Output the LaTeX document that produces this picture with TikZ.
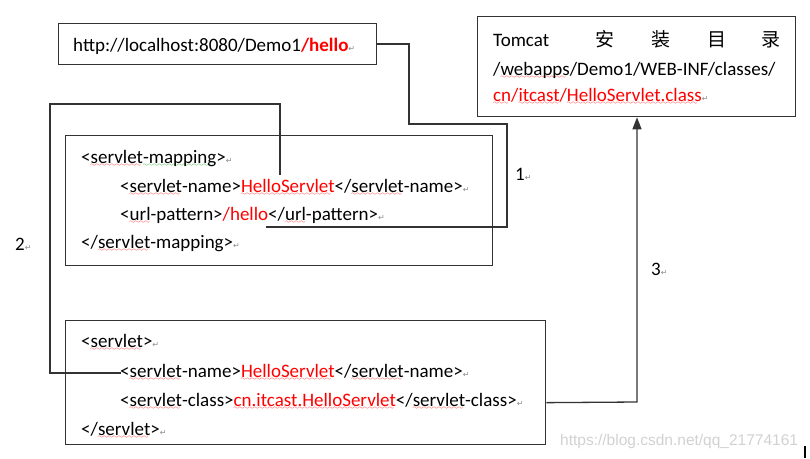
\documentclass[tikz,border=0pt]{standalone}
\usepackage{fontspec}
\usetikzlibrary{arrows.meta,calc}
\setmainfont{Carlito}
\newfontfamily\cjk{Noto Sans CJK SC}
\newfontfamily\dejavu{DejaVu Sans}
\newfontfamily\wmfont{Liberation Sans}
\font\wavefont=lasy6
\newcommand\wavy[2]{\setbox0\hbox{#2}\rlap{\textcolor{#1}{\lower3.5pt\hbox to\wd0{\leaders\hbox{\wavefont\char58}\hfil}}}\box0}
\newcommand\rw[1]{\wavy{red}{#1}}
\newcommand\gw[1]{\wavy{green!60!black}{#1}}
\newcommand\rt[1]{\textcolor{red}{#1}}
\newcommand\ret{{\fontsize{8}{8}\selectfont\textcolor{black!45}{\dejavu ↵}}}
\tikzset{
  box/.style={draw=black!80, line width=1.3pt, anchor=north west, inner sep=0pt},
  txt/.style={anchor=base west, inner sep=0pt, font=\fontsize{19}{19}\selectfont},
  cjktxt/.style={anchor=base, inner sep=0pt, font=\fontsize{19}{19}\selectfont\cjk},
  conn/.style={draw=black!80, line width=1.3pt},
  wm/.style={anchor=base west, inner sep=0pt, font=\fontsize{15.5}{15.5}\selectfont\wmfont, text=black!18}
}
\begin{document}
\begin{tikzpicture}[x=1pt,y=-1pt]
\useasboundingbox (0,0) rectangle (810,458);
% boxes
\node[box, minimum width=318pt, minimum height=41.5pt] (url) at (58,22.5) {};
\node[box, minimum width=318pt, minimum height=100.5pt] (tomcat) at (477,15.5) {};
\node[box, minimum width=427pt, minimum height=130pt] (map) at (65,135) {};
\node[box, minimum width=480pt, minimum height=124pt] (srv) at (65,320) {};
% URL text
\node[txt] (urltxt) at (73,51) {http://localhost:8080/Demo1\rt{\bfseries /hello}\ret};
% Tomcat text
\node[txt] (tc1) at (493,46) {Tomcat};
\node[cjktxt] (z1) at (605,46) {安};
\node[cjktxt] (z2) at (661,46) {装};
\node[cjktxt] (z3) at (716.5,46) {目};
\node[cjktxt] (z4) at (771,46) {录};
\node[txt] (tc2) at (493,75) {/\rw{webapps}/Demo1/WEB-INF/classes/};
\node[txt] (tc3) at (493,101) {\rt{\rw{cn}/\rw{itcast}/\rw{HelloServlet.class}}\ret};
% servlet-mapping text
\node[txt] (m1) at (81,163) {<\rw{servlet}\gw{-mapping}>\ret};
\node[txt] (m2) at (120,192) {<\rw{servlet}-name>\rt{\rw{HelloServlet}}</\rw{servlet}-name>\ret};
\node[txt] (m3) at (120,220) {<\rw{url}-pattern>\rt{/hello}</\rw{url}-pattern>\ret};
\node[txt] (m4) at (81,248) {</\rw{servlet}-mapping>\ret};
% servlet text
\node[txt] (s1) at (81,347) {<\rw{servlet}>\ret};
\node[txt] (s2) at (120,377) {<\rw{servlet}-name>\rt{\rw{HelloServlet}}</\rw{servlet}-name>\ret};
\node[txt] (s3) at (120,406) {<\rw{servlet}-class>\rt{\rw{cn.itcast.HelloServlet}}</\rw{servlet}-class>\ret};
\node[txt] (s4) at (81,435) {</\rw{servlet}>\ret};
% labels
\node[txt] (l1) at (515,180) {1\ret};
\node[txt] (l2) at (15,250) {2\ret};
\node[txt] (l3) at (651,275) {3\ret};
% connector end points
\coordinate (c1end) at (266,227);
\coordinate (c2start) at (280,175);
\coordinate (c2end) at (121,373);
\coordinate (c3start) at ([yshift=-20pt]srv.east);
\coordinate (c3corner) at (637,402);
% connectors
\draw[conn] (url.east) -| (409,124) -| (507,227) -- (c1end);
\draw[conn] (c2start) |- (50,104) |- (c2end);
\draw[conn, -{Triangle[width=9pt,length=12pt]}] (c3start) -- (c3corner) -- (c3corner |- tomcat.south);
% watermark
\node[wm] (wmk) at (560,445) {https://blog.csdn.net/qq\_21774161};
\draw[black, line width=1.2pt] (805,446) -- (805,458);
\end{tikzpicture}
\end{document}
